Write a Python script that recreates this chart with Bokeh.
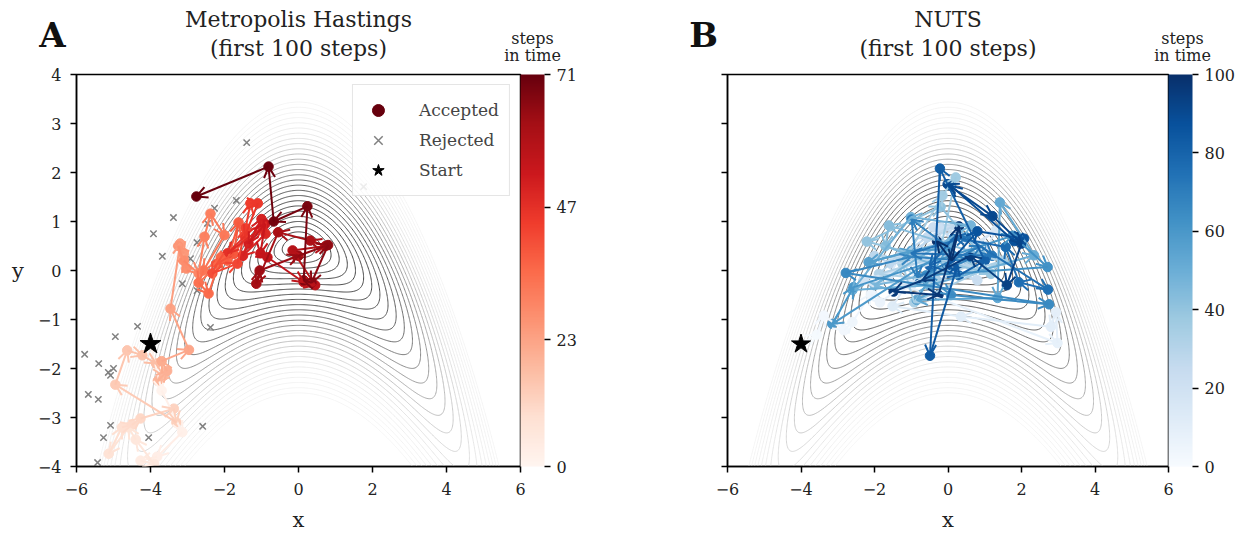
import numpy as np
from bokeh.plotting import figure
from bokeh.models import (ColumnDataSource, Arrow, OpenHead, ColorBar, LinearColorMapper,
                          FixedTicker, Legend, LegendItem, Range1d)
from bokeh.palettes import Reds256, Blues256
from bokeh.transform import linear_cmap
from bokeh.layouts import row, column
from bokeh.core.properties import value
from bokeh.embed import file_html
from bokeh.resources import INLINE

SERIF = "DejaVu Serif"

# ---- banana-shaped target density (contours)
ridge_top = 0.47
ridge_curv = 0.2
scale_x = 0.22
scale_y = 0.106
contour_levels = list(range(2, 29))

# ---- Metropolis-Hastings accepted chain (step 0 = start)
mh_x = [-4.0, -3.7, -3.14, -3.82, -4.27, -3.9, -4.4, -4.6, -5.13, -4.77, -4.5, -4.27, -3.37, -3.3,
        -4.95, -4.63, -4.22, -3.85, -3.65, -3.8, -3.55, -3.7, -2.96, -3.46, -3.2, -3.1, -3.25, -3.03,
        -3.1, -2.7, -2.54, -2.38, -2.0, -2.57, -2.7, -2.43, -2.1, -1.92, -1.62, -1.75, -2.2, -2.33,
        -1.65, -1.43, -1.3, -1.1, -1.45, -1.92, -0.97, -0.89, -1.5, -1.0, -1.35, -0.9, -1.03, -0.84,
        0.14, 0.45, -0.16, 0.73, 0.32, -0.55, -1.14, -1.05, 0.0, 0.8, 0.35, 0.14, 0.24, -0.67, -0.81, -2.76]
mh_y = [-1.5, -2.45, -3.3, -3.8, -3.88, -3.95, -3.45, -3.2, -3.74, -3.2, -3.15, -3.02, -2.82, -3.1,
        -2.33, -1.63, -1.73, -1.9, -2.15, -2.25, -2.05, -1.85, -1.62, -0.78, 0.55, 0.35, 0.5, 0.04,
        0.2, -0.06, 0.69, 1.16, 0.72, 0.0, -0.25, -0.47, 0.27, 0.2, 0.98, 0.34, 0.14, -0.06,
        0.14, 0.86, 1.37, 1.37, 0.7, 0.35, 0.88, 0.75, 0.3, 1.05, 0.55, 0.95, 0.35, 0.27,
        -0.24, -0.3, 0.41, 0.5, 0.61, 0.78, -0.27, 0.0, 0.3, 0.52, -0.25, -0.2, 1.31, 1.0, 2.12, 1.51]

# ---- Metropolis-Hastings rejected proposals
rej_x = [-1.4, 1.76, -1.68, -2.27, -3.38, -3.92, -2.46, -2.74, -3.68, -2.92, -3.14, -2.74, -2.38, -4.35,
         -4.95, -5.78, -5.4, -5.14, -5.0, -5.08, -5.68, -5.41, -5.08, -5.27, -4.05, -2.59, -5.43]
rej_y = [2.61, 1.71, 1.43, 1.27, 1.08, 0.75, 0.96, 0.57, 0.29, 0.24, -0.27, -0.41, -1.16, -1.14,
         -1.35, -1.71, -1.9, -2.08, -2.0, -2.14, -2.53, -2.63, -3.16, -3.41, -3.41, -3.18, -3.92]

# ---- NUTS chain (step 0 = start)
nuts_x = [-4.0, -3.57, -3.38, -2.83, -2.6, -2.1, -1.85, -1.2, 2.98, 2.94, 2.8, 0.35, -1.51, -0.47,
          -1.6, 0.4, 1.3, -1.0, -2.3, -0.6, 1.0, -0.2, -0.4, 0.8, -1.3, -0.56, 0.19, -1.56, -2.0, 0.6,
          -0.65, -1.88, -0.3, 1.5, -0.92, -1.24, -0.15, 0.21, -0.2, 1.17, -2.21, -0.2, 0.9, -1.61, -1.7,
          0.0, -2.0, 0.62, -1.01, -2.6, -0.5, 2.34, 1.41, 1.35, -0.85, 0.1, -2.16, -1.0, 0.03, -3.15,
          -2.57, 1.76, 2.71, -0.6, 0.08, 2.75, -2.78, -1.0, 0.5, -0.99, -0.83, 0.9, 1.2, -1.01, 0.49,
          2.72, 1.93, 1.57, 0.17, -0.5, 0.3, 1.0, -0.22, -0.49, 0.26, -0.06, 0.8, 2.07, 1.8, 0.08,
          -0.01, 1.21, 2.0, 1.6, 0.6, -0.7, -1.48, -0.26, 0.3, 0.1, -0.3]
nuts_y = [-1.5, -1.31, -0.92, -1.22, -1.05, -0.48, -0.65, -0.3, -1.48, -0.85, -1.15, -0.94, -0.73, 0.45,
          -0.1, 0.3, 0.82, -0.3, -0.2, 0.2, 0.5, 0.88, 0.88, -0.2, 0.3, 0.68, 0.92, 0.14, 0.3, 0.1,
          0.2, -0.07, -0.2, 0.2, -0.65, 0.14, 1.53, 1.9, 0.44, -0.07, 0.59, 1.3, 0.32, 0.92, 0.5,
          0.0, -0.3, 0.92, 1.09, -0.4, -0.3, 0.31, 1.39, -0.56, -0.6, 0.6, 0.17, 0.4, 0.44, -1.09,
          -0.34, 0.71, 0.07, -0.1, -0.5, -0.69, -0.05, 0.28, 0.2, 1.04, -0.14, 0.5, 0.3, 0.35, 0.68,
          -0.39, -0.24, 0.48, 0.68, 0.1, -0.1, 0.2, 2.08, -1.74, 0.12, 0.07, 0.8, 0.65, 0.6, 1.73,
          1.76, 1.11, 0.55, -0.3, 0.3, -0.2, -0.43, -0.5, 0.9, 0.2, 0.6]

mh_ticks = [0, 23, 47, 71]
nuts_ticks = [0, 20, 40, 60, 80, 100]
x_ticks = [-6, -4, -2, 0, 2, 4, 6]
y_ticks = [-4, -3, -2, -1, 0, 1, 2, 3, 4]

panel_letters = ["A", "B"]
panel_titles = [["Metropolis Hastings", "(first 100 steps)"], ["NUTS", "(first 100 steps)"]]
cbar_title = ["steps", "in time"]


def grey(q):
    g = int(round(62 + 183 / (1.0 + np.exp(-(q - 16.0) / 2.5))))
    return "#%02x%02x%02x" % (g, g, g)


gx = np.linspace(-6, 6, 481)
gy = np.linspace(-4, 4, 321)
GX, GY = np.meshgrid(gx, gy)
GQ = np.sqrt((GX / scale_x) ** 2 + ((GY - ridge_top + ridge_curv * GX ** 2) / scale_y) ** 2)
contour_colors = [grey(q) for q in contour_levels]

A_LEFT, A_FRAME, A_RIGHT = 76, 444, 68
B_LEFT, B_FRAME, B_RIGHT = 139, 441, 70
HEAD_H = 66


def make_panel(xs, ys, palette, high, ticks, frame_w, left, right,
               show_y, rejected=None, legend=False, msize=9, star_size=22):
    p = figure(frame_width=frame_w, frame_height=392, x_range=Range1d(-6, 6), y_range=Range1d(-4, 4),
               output_backend="svg", toolbar_location=None, min_border_left=left,
               min_border_right=right, min_border_top=8, min_border_bottom=69)
    p.xgrid.visible = False
    p.ygrid.visible = False
    p.outline_line_color = "black"
    p.outline_line_width = 1.5

    p.contour(gx, gy, GQ, contour_levels, line_color=contour_colors, line_width=1.0)

    rej_r = None
    if rejected is not None:
        rej_r = p.scatter(rejected[0], rejected[1], marker="x", size=9, line_color="#808080",
                          line_width=1.5)

    n = len(xs)
    cmap_p = linear_cmap("s", palette, 0, high)
    src_p = ColumnDataSource(dict(x=xs, y=ys, s=list(range(n))))
    pts = p.scatter("x", "y", source=src_p, size=msize, fill_color=cmap_p, line_color=cmap_p)

    src_a = ColumnDataSource(dict(x0=xs[:-1], y0=ys[:-1], x1=xs[1:], y1=ys[1:], s=list(range(1, n))))
    cmap_a = linear_cmap("s", palette, 0, high)
    arrow = Arrow(source=src_a, x_start="x0", y_start="y0", x_end="x1", y_end="y1",
                  line_color=cmap_a, line_width=2.0,
                  end=OpenHead(size=11, line_color=cmap_a, line_width=2.0))
    p.add_layout(arrow)

    star = p.scatter([xs[0]], [ys[0]], marker="star", size=star_size, fill_color="black",
                     line_color="black", level="overlay")

    for ax in (p.xaxis[0], p.yaxis[0]):
        ax.major_label_text_font = SERIF
        ax.major_label_text_font_size = "16px"
        ax.major_label_text_color = "#222222"
        ax.axis_line_width = 1.5
        ax.major_tick_line_width = 1.5
        ax.major_tick_out = 6
        ax.major_tick_in = 0
        ax.minor_tick_out = 0
        ax.minor_tick_in = 0
        ax.axis_label_text_font = SERIF
        ax.axis_label_text_font_size = "21px"
        ax.axis_label_text_font_style = "normal"
        ax.axis_label_text_color = "#222222"
    p.xaxis.ticker = FixedTicker(ticks=x_ticks)
    p.yaxis.ticker = FixedTicker(ticks=y_ticks)
    p.xaxis.axis_label = "x"
    p.xaxis.axis_label_standoff = 10
    p.xaxis.major_label_standoff = 10
    p.yaxis.major_label_standoff = 9
    if show_y:
        p.yaxis.axis_label = "y"
        p.yaxis.axis_label_orientation = "horizontal"
        p.yaxis.axis_label_standoff = 11
    else:
        p.yaxis.major_label_text_color = None

    mapper = LinearColorMapper(palette=palette, low=0, high=high)
    cb = ColorBar(color_mapper=mapper, ticker=FixedTicker(ticks=ticks), width=24, padding=0, margin=0,
                  location="top_left", major_tick_out=6, major_tick_in=0,
                  major_tick_line_color="black", major_tick_line_width=1.5,
                  minor_tick_line_color=None,
                  major_label_text_font=SERIF, major_label_text_font_size="16px",
                  major_label_text_color="#222222", label_standoff=6,
                  bar_line_color=None, border_line_color=None, background_fill_color=None)
    p.add_layout(cb, "right")

    if legend:
        lg = Legend(items=[LegendItem(label="Accepted", renderers=[pts], index=high),
                           LegendItem(label="Rejected", renderers=[rej_r]),
                           LegendItem(label="Start", renderers=[star])],
                    location="top_right", glyph_width=30, glyph_height=30, label_standoff=26,
                    label_text_font=SERIF, label_text_font_size="17px", padding=10, spacing=0,
                    margin=10, border_line_color="#cccccc", border_line_width=1.5,
                    background_fill_alpha=0.85)
        p.add_layout(lg)
    return p


pA = make_panel(mh_x, mh_y, list(reversed(Reds256)), 71, mh_ticks, A_FRAME, A_LEFT, A_RIGHT, True,
                rejected=(rej_x, rej_y), legend=True, msize=9.5, star_size=22)
pB = make_panel(nuts_x, nuts_y, list(reversed(Blues256)), 100, nuts_ticks, B_FRAME, B_LEFT, B_RIGHT,
                False, msize=9.5, star_size=20)

# ---- header strip with panel letters, titles and colour-bar captions (pixel coordinates, y up)
total_w = A_LEFT + A_FRAME + A_RIGHT + B_LEFT + B_FRAME + B_RIGHT
head = figure(width=total_w, height=HEAD_H, x_range=Range1d(0, total_w), y_range=Range1d(0, HEAD_H),
              x_axis_type=None, y_axis_type=None, output_backend="svg", toolbar_location=None,
              min_border_left=0, min_border_right=0, min_border_top=0, min_border_bottom=0,
              outline_line_color=None)
b_origin = A_LEFT + A_FRAME + A_RIGHT
a_mid = A_LEFT + A_FRAME / 2.0
b_mid = b_origin + B_LEFT + B_FRAME / 2.0
a_cb = A_LEFT + A_FRAME + 12
b_cb = b_origin + B_LEFT + B_FRAME + 14
a_let = A_LEFT - 24
b_let = b_origin + B_LEFT - 24

head.text(x=[a_let, b_let], y=[32, 32], text=panel_letters, text_font=value(SERIF),
          text_font_size=value("34px"), text_font_style="bold", text_align="center",
          text_baseline="middle", text_color="#111111")
head.text(x=[a_mid, b_mid], y=[47, 47], text=[panel_titles[0][0], panel_titles[1][0]],
          text_font=value(SERIF), text_font_size=value("22px"), text_align="center",
          text_baseline="middle", text_color="#222222")
head.text(x=[a_mid, b_mid], y=[18, 18], text=[panel_titles[0][1], panel_titles[1][1]],
          text_font=value(SERIF), text_font_size=value("22px"), text_align="center",
          text_baseline="middle", text_color="#222222")
head.text(x=[a_cb, b_cb], y=[28, 28], text=[cbar_title[0]] * 2, text_font=value(SERIF),
          text_font_size=value("16px"), text_align="center", text_baseline="middle",
          text_color="#222222")
head.text(x=[a_cb, b_cb], y=[11, 11], text=[cbar_title[1]] * 2, text_font=value(SERIF),
          text_font_size=value("16px"), text_align="center", text_baseline="middle",
          text_color="#222222")

layout = column(head, row(pA, pB))
open("out.html", "w").write(file_html(layout, INLINE))
